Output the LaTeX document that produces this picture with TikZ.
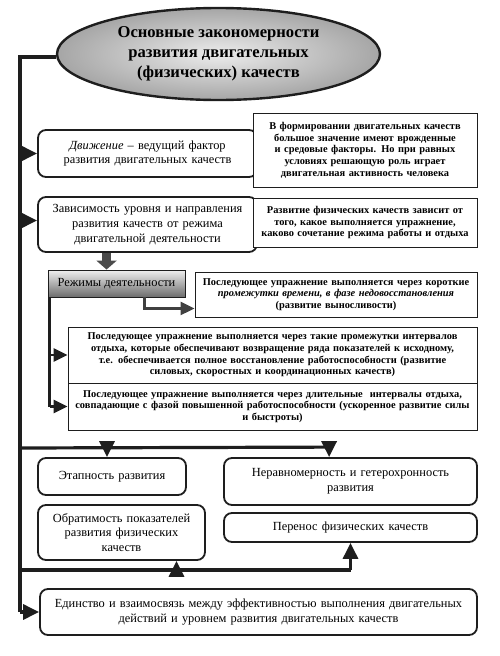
\documentclass[tikz,border=0pt]{standalone}
\usepackage{fontspec}
\setmainfont{Liberation Serif}
\usetikzlibrary{arrows.meta,calc,shapes.geometric}
\definecolor{ink}{HTML}{1E1E1E}
\begin{document}
\begin{tikzpicture}[x=1pt,y=-1pt,
  lbox/.style={draw=ink,line width=1.8pt,rounded corners=8pt,fill=white,align=center,inner sep=3pt,font=\fontsize{12.4}{14.8}\selectfont},
  rbox/.style={draw=ink,line width=0.9pt,fill=white,align=center,inner sep=2pt,font=\bfseries\fontsize{10.4}{11.7}\selectfont},
  mline/.style={draw=ink,line width=3.2pt},
  arr/.style={mline,-{Triangle[length=16pt,width=15pt]}},
  sarr/.style={draw=ink,line width=2.6pt,-{Triangle[length=14pt,width=13pt]}}
]
\useasboundingbox (0,0) rectangle (500,656);
% title
\node[ellipse,draw=ink,line width=2.4pt,inner color=gray!15,outer color=gray!70,
  minimum width=323,minimum height=92,align=center,
  font=\bfseries\fontsize{16.6}{20}\selectfont] (title) at (218.5,54)
  {Основные закономерности\\развития двигательных\\(физических) качеств};
% left boxes
\node[lbox,minimum width=219,minimum height=47,text width=213] (b1) at (147.5,153.5)
  {\textit{Движение} – ведущий фактор\\развития двигательных качеств\hspace*{4pt}};
\node[lbox,minimum width=219,minimum height=55,text width=213] (b2) at (147.5,224.5)
  {Зависимость уровня и направления\\развития качеств от режима\\двигательной деятельности\hspace*{4pt}};
% right boxes
\node[rbox,minimum width=224,minimum height=74,text width=220] (r1) at (365,150)
  {В формировании двигательных качеств\\большое значение имеют врожденные\\и средовые факторы. Но при равных\\условиях решающую роль играет\\двигательная активность человека};
\node[rbox,minimum width=224,minimum height=49,text width=220] (r2) at (365,222.5)
  {Развитие физических качеств зависит от\\того, какое выполняется упражнение,\\каково сочетание режима работы и отдыха};
% modes
\node[draw=ink,line width=0.9pt,top color=gray!12,bottom color=gray!85!black,
  minimum width=137,minimum height=27,inner sep=2pt,
  font=\fontsize{12.4}{14}\selectfont] (m) at (116.5,283.5) {Режимы деятельности};
\node[rbox,minimum width=282,minimum height=45,text width=278] (r3) at (336,294.5)
  {Последующее упражнение выполняется через короткие\\\textit{промежутки времени, в фазе недовосстановления}\\(развитие выносливости)};
\node[rbox,minimum width=409,minimum height=56,text width=405] (r4) at (272.5,355)
  {Последующее упражнение выполняется через такие промежутки интервалов\\отдыха, которые обеспечивают возвращение ряда показателей к исходному,\\т.е. обеспечивается полное восстановление работоспособности (развитие\\силовых, скоростных и координационных качеств)};
\node[rbox,minimum width=409,minimum height=47,text width=405] (r5) at (272.5,406.5)
  {Последующее упражнение выполняется через длительные\ \ интервалы отдыха,\\совпадающие с фазой повышенной работоспособности (ускоренное развитие силы\\и быстроты)};
% lower boxes
\node[lbox,minimum width=148,minimum height=37,text width=142] (e1) at (112,476.5) {Этапность развития};
\node[lbox,minimum width=253,minimum height=47,text width=247] (e2) at (350.5,481.5) {Неравномерность и гетерохронность\\развития};
\node[lbox,minimum width=167,minimum height=55,text width=161] (e3) at (121.5,532.5) {Обратимость показателей\\развития физических\\качеств};
\node[lbox,minimum width=253,minimum height=29,text width=247] (e4) at (350.5,527.5) {Перенос физических качеств};
\node[lbox,minimum width=437,minimum height=46,text width=431] (e5) at (258.5,612) {Единство и взаимосвязь между эффективностью выполнения двигательных\\действий и уровнем развития двигательных качеств};
% main spine
\coordinate (top) at (20,57);
\coordinate (bot) at (20,612);
\draw[mline] (title.west |- top) -- (top) -- (bot);
\draw[arr] (bot) -- (e5.west);
\draw[arr] (b1.west -| top) -- (b1.west);
\draw[arr] ($(b2.west -| top)+(0,-4)$) -- ($(b2.west)+(0,-4)$);
% down from b2 to modes
\draw[draw=ink!80,line width=9pt,-{Triangle[length=9pt,width=20pt]}] (b2.south -| m.west) ++(59,0) coordinate (g1) -- (g1 |- m.north);
% modes to r3
\coordinate (m1) at ($(m.south west)+(97,0)$);
\coordinate (m2) at ($(r3.south west)+(0,-9)$);
\draw[sarr,draw=ink!85] (m1) -- (m1 |- m2) -- (m2);
% modes to r4 / r5
\coordinate (s0) at ($(m.south west)+(2,0)$);
\draw[draw=ink,line width=2.6pt] (s0) -- (s0 |- r5.west);
\draw[sarr] (s0 |- r4.west) -- (r4.west);
\draw[sarr] (s0 |- r5.west) -- (r5.west);
% upper horizontal
\coordinate (h1) at (20,448);
\coordinate (h1e) at ($(e2.north west)+(106,-10)$);
\draw[mline] (h1) -- (h1e);
\draw[arr] ($(e1.north)+(-5,-10)$) -- ($(e1.north)+(-5,0)$);
\draw[arr] (h1e) -- ($(e2.north west)+(106,0)$);
% lower horizontal
\coordinate (h2) at (20,570);
\coordinate (h2e) at (e4.south |- h2);
\draw[mline] (h2) -- (h2e);
\draw[arr] (h2e) -- (e4.south);
\draw[arr] ($(e3.south)+(55,10)$) -- ($(e3.south)+(55,0)$);
\end{tikzpicture}
\end{document}
